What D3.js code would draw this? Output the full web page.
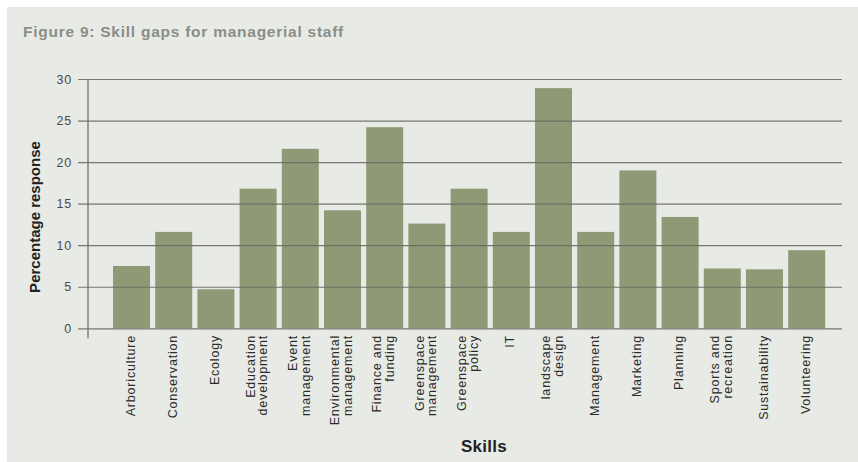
<!DOCTYPE html>
<html>
<head>
<meta charset="utf-8">
<script src="https://cdn.jsdelivr.net/npm/d3@7/dist/d3.min.js"></script>
<style>
  html, body { margin: 0; padding: 0; background: #ffffff; }
  svg { display: block; }
</style>
</head>
<body>
<svg id="chart" width="858" height="462"></svg>
<script>
// Skill categories; "\n" marks a line break in the axis label
const categories = [
  "Arboriculture", "Conservation", "Ecology", "Education\ndevelopment",
  "Event\nmanagement", "Environmental\nmanagement", "Finance and\nfunding",
  "Greenspace\nmanagement", "Greenspace\npolicy", "IT", "landscape\ndesign",
  "Management", "Marketing", "Planning", "Sports and\nrecreation",
  "Sustainability", "Volunteering"
];
// Percentage of respondents reporting a gap
const values = [7.5, 11.6, 4.7, 16.8, 21.6, 14.2, 24.2, 12.6, 16.8, 11.6, 28.9, 11.6, 19.0, 13.4, 7.2, 7.1, 9.4];
const yTicks = [0, 5, 10, 15, 20, 25, 30];

const title = "Figure 9: Skill gaps for managerial staff";
const yTitle = "Percentage response";
const xTitle = "Skills";

const FONT = "Liberation Sans, Arial, sans-serif";
const svg = d3.select("#chart");

// panel background
svg.append("rect")
  .attr("x", 7).attr("y", 7).attr("width", 851).attr("height", 455)
  .attr("fill", "#e8ebe5");

svg.append("text")
  .attr("x", 23).attr("y", 37)
  .attr("font-family", FONT)
  .attr("font-size", 15.5)
  .attr("font-weight", "bold")
  .attr("letter-spacing", 0.75)
  .attr("fill", "#8b8d88")
  .text(title);

const axisX = 88, gridRight = 842;
const y = d3.scaleLinear().domain([0, 30]).range([328.3, 79]);
const x = d3.scaleBand()
  .domain(categories)
  .range([110.4, 827.8])
  .paddingInner(0.123)
  .paddingOuter(0.0615);

// bars (drawn first so gridlines sit on top of them)
svg.append("g")
  .selectAll("rect")
  .data(values)
  .join("rect")
  .attr("x", (d, i) => x(categories[i]))
  .attr("y", d => y(d))
  .attr("width", x.bandwidth())
  .attr("height", d => y(0) - y(d))
  .attr("fill", "#8e9a76");

// gridlines + ticks
const yAxis = d3.axisLeft(y)
  .tickValues(yTicks)
  .tickSize(-(gridRight - axisX))
  .tickPadding(16)
  .tickFormat(d3.format("d"));

const gy = svg.append("g")
  .attr("transform", `translate(${axisX},0)`)
  .call(yAxis);
gy.select(".domain").remove();
gy.selectAll(".tick line")
  .attr("x1", -10)
  .attr("stroke", "#686a63")
  .attr("stroke-width", 1.2)
  .attr("opacity", 0.9);
gy.selectAll(".tick text")
  .attr("font-family", FONT)
  .attr("font-size", 12.5)
  .attr("letter-spacing", 0.8)
  .attr("fill", "#4a4a4a");

// vertical axis line, running a little below zero
svg.append("line")
  .attr("x1", axisX).attr("x2", axisX)
  .attr("y1", y(30)).attr("y2", y(0) + 10)
  .attr("stroke", "#686a63").attr("stroke-width", 1.2);

// category labels, rotated, right-aligned to the top
const lab = svg.append("g");
categories.forEach(c => {
  const lines = c.split("\n");
  const cx = x(c) + x.bandwidth() / 2 - 1.5;
  const lh = 12.5;
  const t = lab.append("text")
    .attr("transform", `translate(${cx},335) rotate(-90)`)
    .attr("text-anchor", "end")
    .attr("font-family", FONT)
    .attr("font-size", 12.5)
    .attr("letter-spacing", 0.8)
    .attr("fill", "#2b2b2b");
  lines.forEach((ln, k) => {
    t.append("tspan")
      .attr("x", 0)
      .attr("y", (k - (lines.length - 1) / 2) * lh + 4.5)
      .text(ln);
  });
});

svg.append("text")
  .attr("transform", "translate(39.5,217) rotate(-90)")
  .attr("text-anchor", "middle")
  .attr("font-family", FONT)
  .attr("font-size", 15)
  .attr("font-weight", "bold")
  .attr("fill", "#222")
  .text(yTitle);

svg.append("text")
  .attr("x", 484).attr("y", 452)
  .attr("text-anchor", "middle")
  .attr("font-family", FONT)
  .attr("font-size", 17)
  .attr("font-weight", "bold")
  .attr("letter-spacing", 0.3)
  .attr("fill", "#222")
  .text(xTitle);
</script>
</body>
</html>
